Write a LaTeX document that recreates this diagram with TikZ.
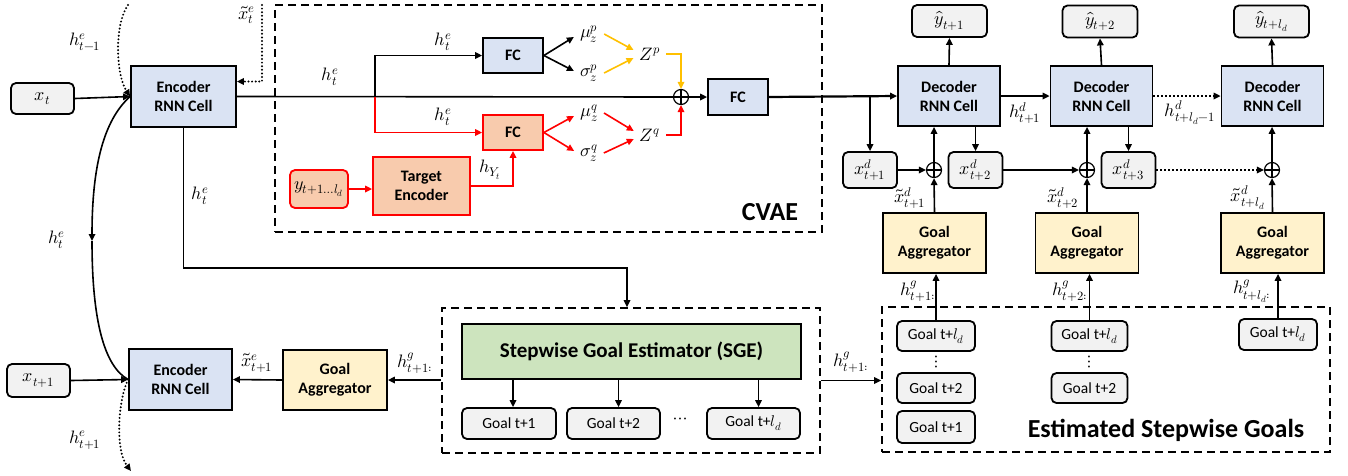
\documentclass[tikz,border=0pt]{standalone}
\usepackage{fontspec}
\usepackage{unicode-math}
\setmainfont{Carlito}
\setmathfont{Latin Modern Math}
\usetikzlibrary{arrows.meta,calc}
\definecolor{cblue}{HTML}{DAE3F3}
\definecolor{corange}{HTML}{F8CBAD}
\definecolor{cyellow}{HTML}{FFF2CC}
\definecolor{cgreen}{HTML}{CDE4BE}
\definecolor{cgray}{HTML}{F2F2F2}
\definecolor{cred}{HTML}{FF0000}
\definecolor{cgold}{HTML}{FFC000}
\tikzset{
  bx/.style={draw, line width=1.8pt, align=center, inner sep=0pt, font=\bfseries\fontsize{16}{19}\selectfont},
  ebox/.style={bx, fill=cblue},
  abox/.style={bx, fill=cyellow, minimum width=103pt, minimum height=60pt},
  obox/.style={bx, fill=corange, draw=cred},
  gbox/.style={bx, fill=cgray, rounded corners=5pt, font=\fontsize{18}{20}\selectfont},
  goalbox/.style={gbox, font=\fontsize{15.5}{18}\selectfont},
  dbox/.style={draw, line width=1.7pt, dash pattern=on 8pt off 5pt},
  fcbox/.style={minimum width=60pt, minimum height=35pt},
  decbox/.style={ebox, minimum width=102pt, minimum height=60pt},
  lab/.style={inner sep=1pt, font=\fontsize{18}{20}\selectfont},
  mlab/.style={inner sep=6pt, font=\fontsize{18}{20}\selectfont},
  ln/.style={line width=1.6pt},
  arr/.style={line width=1.6pt, -{Triangle[length=7pt,width=6.5pt]}},
  rarr/.style={arr, draw=cred, color=cred},
  yarr/.style={arr, draw=cgold, color=cgold},
  dotarr/.style={arr, dash pattern=on 2pt off 2pt},
  rdot/.style={line width=2.2pt, dash pattern=on 0pt off 3.6pt, line cap=round, -{Triangle[length=7pt,width=6.5pt,line cap=butt]}},
  oplus/.style={circle, draw, line width=1.2pt, minimum size=15pt, inner sep=0pt, fill=white,
    path picture={\draw[line width=1.2pt] (path picture bounding box.north) -- (path picture bounding box.south)
      (path picture bounding box.west) -- (path picture bounding box.east);}},
}
\begin{document}
\begin{tikzpicture}[x=1pt,y=-1pt]
\useasboundingbox (0,0) rectangle (1348,475);

% ---------- left encoder part ----------
\node[gbox, minimum width=63pt, minimum height=31pt] (xt) at (42.5,98.5) {$x_t$};
\node[ebox, minimum width=105pt, minimum height=61pt] (enc1) at (183.5,96.5) {Encoder\\RNN Cell};
\node[gbox, minimum width=63pt, minimum height=33pt] (xt1) at (38.5,380.5) {$x_{t+1}$};
\node[ebox, minimum width=103pt, minimum height=61pt] (enc2) at (180.5,379.5) {Encoder\\RNN Cell};
\node[abox, minimum width=104pt] (gal) at (335,380) {Goal\\Aggregator};

\coordinate (top1) at (128,5);
\coordinate (top2) at (262,5);
\coordinate (midl) at (92,241);
\coordinate (bot1) at (131,471);
\coordinate (turn) at (627,268);

% ---------- CVAE ----------
\node[dbox, minimum width=547pt, minimum height=227pt] (cvae) at (548.5,118.5) {};
\node[ebox, fcbox] (fc1) at (513,55.5) {FC};
\node[obox, fcbox] (fc2) at (513,132.5) {FC};
\node[obox, rounded corners=5pt, font=\fontsize{18}{20}\selectfont, minimum width=58pt, minimum height=38pt] (yin) at (319,189) {$y_{t+1\ldots l_d}$};
\node[obox, minimum width=97pt, minimum height=58pt] (te) at (421.5,186) {Target\\Encoder};
\node[oplus] (op) at (681,97) {};
\node[ebox, minimum width=60pt, minimum height=36pt] (fc3) at (738,97) {FC};
\node[mlab] (mup) at (589,34) {$\mu_z^p$};
\node[mlab] (sigp) at (589,73) {$\sigma_z^p$};
\node[mlab] (zp) at (650,54) {$Z^p$};
\node[mlab] (muq) at (589,113) {$\mu_z^q$};
\node[mlab] (sigq) at (589,153) {$\sigma_z^q$};
\node[mlab] (zq) at (650,135) {$Z^q$};
\node[font=\bfseries\fontsize{26}{30}\selectfont, inner sep=0pt] (cvaelab) at (770,212) {CVAE};
\coordinate (br) at (375,97);

% ---------- decoder ----------
\node[gbox, minimum width=75pt, minimum height=32pt] (yh1) at (949.5,21) {$\hat{y}_{t+1}$};
\node[gbox, minimum width=75pt, minimum height=32pt] (yh2) at (1100,21.5) {$\hat{y}_{t+2}$};
\node[gbox, minimum width=75pt, minimum height=32pt] (yh3) at (1271.5,21.5) {$\hat{y}_{t+l_d}$};
\node[decbox] (dec1) at (949,96) {Decoder\\RNN Cell};
\node[decbox] (dec2) at (1101.5,96) {Decoder\\RNN Cell};
\node[decbox] (dec3) at (1272.5,96) {Decoder\\RNN Cell};
\node[gbox, minimum width=54pt, minimum height=36pt] (xd1) at (870,170) {$x^d_{t+1}$};
\node[gbox, minimum width=54pt, minimum height=36pt] (xd2) at (975.5,170) {$x^d_{t+2}$};
\node[gbox, minimum width=54pt, minimum height=36pt] (xd3) at (1128.5,170) {$x^d_{t+3}$};
\node[oplus] (op1) at (934,170) {};
\node[oplus] (op2) at (1087,170) {};
\node[oplus] (op3) at (1272,170) {};
\node[abox] (ga1) at (934.5,243) {Goal\\Aggregator};
\node[abox] (ga2) at (1087,243) {Goal\\Aggregator};
\node[abox] (ga3) at (1272.5,243) {Goal\\Aggregator};
\coordinate (br2) at (870,97);

% ---------- estimated stepwise goals ----------
\node[dbox, minimum width=448pt, minimum height=145pt] (esg) at (1106,379.5) {};
\node[goalbox, minimum width=78pt, minimum height=30pt] (g11) at (936,336) {Goal t+$l_d$};
\node[goalbox, minimum width=78pt, minimum height=30pt] (g12) at (936,388) {Goal t+2};
\node[goalbox, minimum width=78pt, minimum height=32pt] (g13) at (936,427) {Goal t+1};
\node[goalbox, minimum width=76pt, minimum height=30pt] (g21) at (1089.5,336) {Goal t+$l_d$};
\node[goalbox, minimum width=76pt, minimum height=30pt] (g22) at (1089.5,388) {Goal t+2};
\node[goalbox, minimum width=78pt, minimum height=31pt] (g31) at (1278,334.5) {Goal t+$l_d$};
\node[lab] (v1) at (936,362) {$\vdots$};
\node[lab] (v2) at (1089.5,362) {$\vdots$};
\node[font=\bfseries\fontsize{26}{30}\selectfont, inner sep=0pt] (esglab) at (1166,430) {Estimated Stepwise Goals};

% ---------- SGE ----------
\node[dbox, minimum width=378pt, minimum height=145pt] (sgeb) at (631,380.5) {};
\node[bx, fill=cgreen, minimum width=339pt, minimum height=55pt, font=\bfseries\fontsize{21}{24}\selectfont] (sge) at (631.5,351.5) {Stepwise Goal Estimator (SGE)};
\node[goalbox, minimum width=94pt, minimum height=31pt] (s1) at (509,423.5) {Goal t+1};
\node[goalbox, minimum width=93pt, minimum height=31pt] (s2) at (613.5,423.5) {Goal t+2};
\node[goalbox, minimum width=93pt, minimum height=31pt] (s3) at (753.5,423.5) {Goal t+$l_d$};
\node[lab] (sdots) at (680,421) {$\cdots$};

% ---------- labels ----------
\node[lab] at (85,42) {$h^e_{t-1}$};
\node[lab] at (247,15) {$\tilde{x}^e_t$};
\node[lab] at (330,77) {$h^e_t$};
\node[lab] at (443,42) {$h^e_t$};
\node[lab] at (443,117) {$h^e_t$};
\node[lab] at (490,170) {$h_{Y_t}$};
\node[lab] at (200,196) {$h^e_t$};
\node[lab] at (57,240) {$h^e_t$};
\node[lab] at (85,440) {$h^e_{t+1}$};
\node[lab] at (257,363) {$\tilde{x}^e_{t+1}$};
\node[lab] at (415,363) {$h^g_{t+1:}$};
\node[lab] at (851,362) {$h^g_{t+1:}$};
\node[lab] at (1025,113) {$h^d_{t+1}$};
\node[lab] at (1190,113) {$h^d_{t+l_d-1}$};
\node[lab] at (910,198) {$\tilde{x}^d_{t+1}$};
\node[lab] at (1063,198) {$\tilde{x}^d_{t+2}$};
\node[lab] at (1248,198) {$\tilde{x}^d_{t+l_d}$};
\node[lab] at (918,291) {$h^g_{t+1:}$};
\node[lab] at (1070,291) {$h^g_{t+2:}$};
\node[lab] at (1252,291) {$h^g_{t+l_d:}$};

% ---------- connectors: encoder ----------
\draw[arr] (xt.east) -- (enc1.west);
\draw[rdot] (top1) .. controls (114,25) and (116,75) .. (enc1.west);
\draw[rdot] (top2) |- ([yshift=15pt]enc1.east);
\draw[ln] (enc1.east) -- (op.west);
\draw[arr] (enc1.south) |- (turn) -- (turn |- sgeb.north);
\draw[arr] (enc1.west) .. controls (104,120) and (92,165) .. (midl);
\draw[ln] (midl) .. controls (92,320) and (104,366) .. (enc2.west);
\draw[arr] (xt1.east) -- (enc2.west);
\draw[rdot] (enc2.west) .. controls (118,400) and (115,450) .. (bot1);
\draw[arr] (gal.west) -- (enc2.east);
\draw[arr] (sgeb.west |- gal.east) -- (gal.east);

% ---------- connectors: CVAE ----------
\draw[arr] (br) |- (fc1.west);
\draw[rarr] (br) |- (fc2.west);
\draw[arr] (fc1.east) -- ([yshift=-3pt]mup.west);
\draw[arr] (fc1.east) -- ([yshift=2pt]sigp.west);
\draw[rarr] (fc2.east) -- ([yshift=-3pt]muq.west);
\draw[rarr] (fc2.east) -- ([yshift=2pt]sigq.west);
\draw[yarr] (mup.east) -- ([yshift=4pt]zp.west);
\draw[yarr] (sigp.east) -- ([yshift=-4pt]zp.west);
\draw[rarr] (muq.east) -- ([yshift=4pt]zq.west);
\draw[rarr] (sigq.east) -- ([yshift=-4pt]zq.west);
\draw[yarr] (zp.east) -| (op.north);
\draw[rarr] (zq.east) -| (op.south);
\draw[rarr] (yin.east) -- (yin.east -| te.west);
\draw[rarr] (te.east) -| (fc2.south);
\draw[arr] (op.east) -- (fc3.west);

% ---------- connectors: decoder ----------
\draw[arr, line width=2.2pt] (fc3.east) -- (dec1.west);
\draw[arr] (br2) -- (xd1.north);
\draw[arr] (dec1.north) -- (yh1.south);
\draw[arr] (dec2.north) -- (yh2.south);
\draw[arr] (dec3.north) -- (yh3.south);
\draw[arr] (dec1.east) -- (dec2.west);
\draw[dotarr] (dec2.east) -- (dec3.west);
\draw[arr] (xd2.north |- dec1.south) -- (xd2.north);
\draw[arr] (xd3.north |- dec2.south) -- (xd3.north);
\draw[arr] (xd1.east) -- (op1.west);
\draw[arr] (xd2.east) -- (op2.west);
\draw[dotarr] (xd3.east) -- (op3.west);
\draw[arr] (op1.north) -- (op1.north |- dec1.south);
\draw[arr] (op2.north) -- (op2.north |- dec2.south);
\draw[arr] (op3.north) -- (op3.north |- dec3.south);
\draw[arr] (ga1.north) -- (op1.south);
\draw[arr] (ga2.north) -- (op2.south);
\draw[arr] (ga3.north) -- (op3.south);
\draw[arr] (g11.north) -- (g11.north |- ga1.south);
\draw[arr] (g21.north) -- (g21.north |- ga2.south);
\draw[arr] (g31.north) -- (g31.north |- ga3.south);

% ---------- connectors: SGE ----------
\draw[arr] (sgeb.east) -- (sgeb.east -| esg.west);
\draw[arr] ([xshift=4pt]s1.north |- sge.south) -- ([xshift=4pt]s1.north);
\draw[arr] ([xshift=5pt]s2.north |- sge.south) -- ([xshift=5pt]s2.north);
\draw[arr] ([xshift=5pt]s3.north |- sge.south) -- ([xshift=5pt]s3.north);
\end{tikzpicture}
\end{document}
